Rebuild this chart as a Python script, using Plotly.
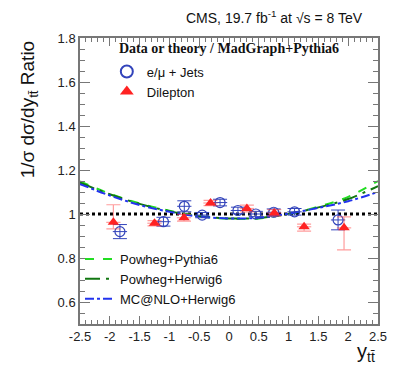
import plotly.graph_objects as go

# e/mu + jets (open circles)
lj_x = [-1.83, -1.10, -0.75, -0.45, -0.15, 0.15, 0.45, 0.75, 1.10, 1.83]
lj_y = [0.920, 0.965, 1.035, 0.995, 1.052, 1.016, 1.000, 1.008, 1.010, 0.973]
lj_err = [0.032, 0.020, 0.025, 0.012, 0.015, 0.015, 0.012, 0.015, 0.015, 0.045]

# dilepton (filled triangles)
dl_x = [-1.94, -1.25, -0.755, -0.31, 0.30, 0.76, 1.26, 1.93]
dl_y = [0.962, 0.958, 0.983, 1.050, 1.025, 1.005, 0.942, 0.937]
dl_up = [0.080, 0.012, 0.015, 0.012, 0.015, 0.015, 0.012, 0.050]
dl_dn = [0.030, 0.012, 0.015, 0.012, 0.015, 0.015, 0.020, 0.100]

# theory / MadGraph+Pythia6
th_x = [-2.5, -2.0, -1.5, -1.0, -0.5, 0.0, 0.5, 1.0, 1.5, 2.0, 2.5]
powheg_pythia = [1.148, 1.092, 1.048, 1.015, 0.990, 0.978, 0.980, 1.000, 1.033, 1.078, 1.150]
powheg_herwig = [1.142, 1.090, 1.046, 1.013, 0.990, 0.980, 0.982, 1.001, 1.030, 1.068, 1.127]
mcnlo_herwig = [1.136, 1.084, 1.041, 1.010, 0.988, 0.980, 0.983, 1.002, 1.028, 1.058, 1.100]

xticks = [-2.5, -2, -1.5, -1, -0.5, 0, 0.5, 1, 1.5, 2, 2.5]
xticktext = ["-2.5", "-2", "-1.5", "-1", "-0.5", "0", "0.5", "1", "1.5", "2", "2.5"]

fig = go.Figure()

# reference line at 1
fig.add_trace(go.Scatter(x=[-2.5, 2.5], y=[1, 1], mode='lines', showlegend=False,
                         line=dict(color='black', width=3, dash='dot'), hoverinfo='skip'))

fig.add_trace(go.Scatter(x=th_x, y=powheg_pythia, mode='lines', name='Powheg+Pythia6',
                         line=dict(color='#22dd22', width=2, dash='dash', shape='spline'), legend='legend2'))
fig.add_trace(go.Scatter(x=th_x, y=powheg_herwig, mode='lines', name='Powheg+Herwig6',
                         line=dict(color='#117711', width=2, dash='longdashdot', shape='spline'), legend='legend2'))
fig.add_trace(go.Scatter(x=th_x, y=mcnlo_herwig, mode='lines', name='MC@NLO+Herwig6',
                         line=dict(color='#2233ee', width=2, dash='dashdot', shape='spline'), legend='legend2'))

fig.add_trace(go.Scatter(
    x=lj_x, y=lj_y, mode='markers', name='e/μ + Jets',
    marker=dict(symbol='circle-open', size=10, color='#3344bb', line=dict(width=1.2)),
    error_y=dict(type='data', array=lj_err, color='#3344bb', thickness=1, width=7),
    error_x=dict(type='constant', value=0.12, color='#3344bb', thickness=1, width=0),
))
fig.add_trace(go.Scatter(
    x=dl_x, y=dl_y, mode='markers', name='Dilepton',
    marker=dict(symbol='triangle-up', size=10, color='#ff2222'),
    error_y=dict(type='data', symmetric=False, array=dl_up, arrayminus=dl_dn,
                 color='rgba(255,60,60,0.5)', thickness=1.2, width=7),
    error_x=dict(type='constant', value=0.12, color='rgba(255,60,60,0.5)', thickness=1.2, width=0),
))

axis_common = dict(showline=True, linecolor='#777', linewidth=1.5, mirror='ticks',
                   ticks='inside', tickcolor='#777', showgrid=False, zeroline=False,
                   tickfont=dict(family='Liberation Sans, Arial', size=13, color='#222'))
fig.update_xaxes(range=[-2.5, 2.5], tickvals=xticks, ticktext=xticktext, ticklen=8,
                 minor=dict(dtick=0.1, ticks='inside', ticklen=4, tickcolor='#777'), **axis_common)
fig.update_yaxes(range=[0.5, 1.8], dtick=0.2, tick0=0.6, ticklen=10,
                 minor=dict(dtick=0.05, ticks='inside', ticklen=5, tickcolor='#777'), **axis_common)

fig.add_annotation(text="CMS, 19.7 fb<sup>-1</sup> at √s = 8 TeV", xref='paper', yref='paper',
                   x=0.955, y=1.035, xanchor='right', yanchor='bottom', showarrow=False,
                   font=dict(family='Liberation Sans, Arial', size=14, color='#111'))
fig.add_annotation(text="1/σ dσ/dy<sub>tt̄</sub> Ratio", xref='paper', yref='paper',
                   x=-0.17, y=1.0, xanchor='center', yanchor='top', textangle=-90, showarrow=False,
                   font=dict(family='Liberation Sans, Arial', size=19, color='#111'))
fig.add_annotation(text="y<sub>tt̄</sub>", xref='paper', yref='paper',
                   x=0.995, y=-0.05, xanchor='right', yanchor='top', showarrow=False,
                   font=dict(family='Liberation Sans, Arial', size=20, color='#111'))
fig.add_annotation(text="<b>Data or theory / MadGraph+Pythia6</b>", xref='paper', yref='paper',
                   x=0.125, y=0.965, xanchor='left', yanchor='middle', showarrow=False,
                   font=dict(family='Liberation Serif, Times New Roman', size=14, color='#111'))

# the page body adds an 8px offset, so the figure is shrunk to fit the window
fig.update_layout(
    width=391, height=375,
    margin=dict(l=72, r=21, t=30, b=59),
    paper_bgcolor='white', plot_bgcolor='white',
    legend=dict(x=0.09, y=0.935, xanchor='left', yanchor='top', bgcolor='rgba(0,0,0,0)',
                font=dict(family='Liberation Sans, Arial', size=13, color='#111'),
                tracegroupgap=0, itemsizing='constant'),
    legend2=dict(x=0.0, y=0.035, xanchor='left', yanchor='bottom', bgcolor='rgba(0,0,0,0)',
                 font=dict(family='Liberation Sans, Arial', size=13, color='#111'),
                 tracegroupgap=0, itemwidth=30),
)

fig.write_html("out.html")
